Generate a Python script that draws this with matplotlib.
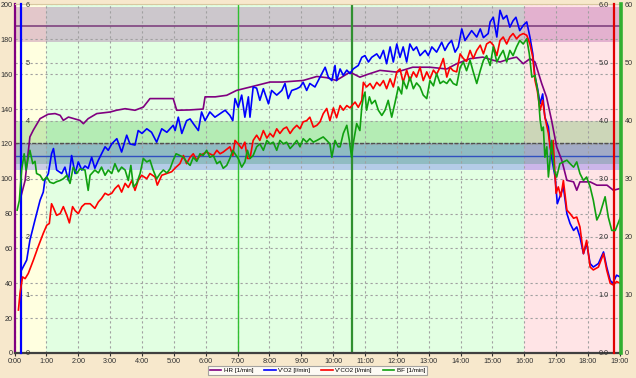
import matplotlib
matplotlib.use("Agg")
import matplotlib.pyplot as plt
import numpy as np

# HR [1/min], left scale 0-200
hr_t = [0.17, 0.33, 0.48, 0.59, 0.80, 1.05, 1.27, 1.43, 1.53, 1.69,
        2.05, 2.16, 2.31, 2.58, 3.00, 3.20, 3.47, 3.78, 4.04, 4.25,
        4.60, 4.98, 5.09, 5.50, 5.92, 5.98, 6.30, 6.66, 6.97, 7.39,
        8.02, 8.40, 9.06, 9.49, 9.80, 10.10, 10.53, 10.84, 11.10, 11.47,
        12.00, 12.50, 13.04, 13.57, 13.88, 14.30, 14.70, 15.03, 15.24, 15.55,
        15.76, 15.97, 16.18, 16.34, 16.55, 16.70, 16.86, 17.02, 17.18, 17.34,
        17.55, 17.65, 17.75, 18.07, 18.28, 18.60, 18.80, 19.01]
hr = [87.7, 99, 124, 128, 134.5, 137, 137.4, 136.4, 133.5, 135.4,
      133.5, 131.6, 134.5, 137.4, 138.3, 139.3, 140.2, 139.3, 141.1, 146,
      146, 146, 139.3, 139.5, 140, 147, 147, 147.9, 150.7, 152.6,
      155.5, 155.5, 156.4, 158.7, 158, 156.4, 161.2, 158.3, 160, 162.2,
      161.2, 164, 164, 163, 166, 168.9, 169.8, 168, 167, 168.9,
      169.8, 166, 168.9, 167, 154.6, 146.9, 133.5, 118.2, 110.6, 99.1,
      98.2, 93.4, 98.2, 98.2, 96.3, 96.3, 93.4, 94.4]

# V'O2 [l/min], scale 0-6
vo2_t = [0.22, 0.38, 0.48, 0.64, 0.80, 0.90, 0.95, 1.06, 1.16, 1.22,
         1.32, 1.48, 1.58, 1.69, 1.79, 1.90, 2.00, 2.11, 2.21, 2.31,
         2.42, 2.52, 2.63, 2.73, 2.84, 2.94, 3.05, 3.21, 3.36, 3.52,
         3.62, 3.78, 3.88, 4.00, 4.15, 4.30, 4.46, 4.62, 4.78, 4.88,
         4.98, 5.04, 5.14, 5.25, 5.40, 5.51, 5.61, 5.77, 5.87, 5.98,
         6.13, 6.29, 6.45, 6.61, 6.76, 6.85, 6.92, 7.02, 7.13, 7.23,
         7.34, 7.39, 7.49, 7.60, 7.70, 7.81, 7.97, 8.07, 8.23, 8.39,
         8.49, 8.59, 8.70, 8.86, 8.96, 9.06, 9.17, 9.27, 9.43, 9.59,
         9.75, 9.85, 9.96, 10.06, 10.11, 10.22, 10.32, 10.43, 10.53, 10.63,
         10.79, 10.90, 11.00, 11.11, 11.21, 11.37, 11.47, 11.58, 11.68, 11.79,
         11.89, 12.00, 12.10, 12.20, 12.31, 12.41, 12.52, 12.62, 12.73, 12.89,
         12.99, 13.10, 13.25, 13.41, 13.51, 13.62, 13.72, 13.83, 13.93, 14.04,
         14.14, 14.25, 14.35, 14.51, 14.62, 14.72, 14.87, 14.93, 15.03, 15.14,
         15.24, 15.34, 15.45, 15.55, 15.65, 15.74, 15.86, 15.97, 16.08, 16.18,
         16.27, 16.34, 16.41, 16.50, 16.58, 16.65, 16.76, 16.81, 16.86, 16.97,
         17.04, 17.12, 17.23, 17.34, 17.44, 17.55, 17.65, 17.75, 17.86, 17.96,
         18.07, 18.17, 18.33, 18.49, 18.59, 18.70, 18.78, 18.90, 19.01]
vo2 = [1.43, 1.60, 1.94, 2.29, 2.63, 2.77, 2.97, 3.09, 3.43, 3.52,
       3.15, 3.09, 3.20, 2.97, 3.40, 3.09, 3.29, 3.15, 3.22, 3.18,
       3.37, 3.18, 3.32, 3.43, 3.55, 3.49, 3.60, 3.69, 3.46, 3.75,
       3.60, 3.58, 3.83, 3.78, 3.86, 3.80, 3.63, 3.86, 3.80, 3.86,
       3.92, 3.83, 4.06, 3.78, 4.00, 4.03, 3.95, 3.83, 4.15, 4.00,
       4.15, 4.06, 4.12, 4.18, 4.09, 4.00, 4.38, 4.23, 4.44, 4.06,
       4.41, 4.06, 4.58, 4.56, 4.35, 4.55, 4.29, 4.52, 4.44, 4.52,
       4.64, 4.38, 4.52, 4.55, 4.58, 4.66, 4.52, 4.64, 4.58, 4.75,
       4.92, 4.75, 4.69, 4.95, 4.69, 4.89, 4.78, 4.87, 4.81, 4.89,
       4.95, 5.09, 5.12, 5.01, 5.09, 5.15, 5.07, 5.21, 4.98, 5.27,
       5.01, 5.32, 5.09, 5.27, 5.01, 5.32, 5.21, 5.27, 5.12, 5.21,
       5.12, 5.27, 5.18, 5.35, 5.21, 5.32, 5.38, 5.18, 5.27, 5.58,
       5.38, 5.47, 5.55, 5.44, 5.58, 5.43, 5.50, 5.70, 5.78, 5.44,
       5.90, 5.75, 5.81, 5.61, 5.72, 5.78, 5.55, 5.64, 5.70, 5.44,
       5.15, 4.75, 4.58, 4.29, 4.46, 4.06, 3.89, 3.60, 3.37, 3.03,
       2.57, 2.69, 2.86, 2.40, 2.23, 2.11, 2.17, 2.00, 1.71, 1.89,
       1.54, 1.48, 1.54, 1.74, 1.48, 1.25, 1.20, 1.34, 1.31]

# V'CO2 [l/min], scale 0-6
vco2_t = [0.12, 0.17, 0.25, 0.33, 0.43, 0.59, 0.74, 0.90, 1.01, 1.09,
          1.16, 1.22, 1.32, 1.43, 1.53, 1.64, 1.72, 1.82, 1.90, 2.00,
          2.11, 2.21, 2.37, 2.52, 2.63, 2.73, 2.84, 2.94, 3.05, 3.15,
          3.26, 3.36, 3.47, 3.57, 3.68, 3.78, 3.88, 3.99, 4.15, 4.25,
          4.41, 4.48, 4.62, 4.78, 4.93, 5.07, 5.19, 5.30, 5.40, 5.51,
          5.61, 5.72, 5.82, 6.03, 6.13, 6.24, 6.35, 6.45, 6.55, 6.76,
          6.85, 6.92, 7.02, 7.13, 7.23, 7.31, 7.39, 7.49, 7.60, 7.70,
          7.81, 7.92, 8.02, 8.12, 8.23, 8.33, 8.44, 8.54, 8.65, 8.75,
          8.86, 8.96, 9.06, 9.17, 9.27, 9.38, 9.49, 9.59, 9.69, 9.80,
          9.90, 10.01, 10.11, 10.22, 10.32, 10.43, 10.53, 10.69, 10.79, 10.90,
          10.95, 11.05, 11.16, 11.26, 11.37, 11.47, 11.58, 11.68, 11.79, 11.89,
          12.00, 12.10, 12.20, 12.31, 12.41, 12.52, 12.62, 12.73, 12.83, 12.94,
          13.04, 13.15, 13.25, 13.36, 13.46, 13.57, 13.67, 13.77, 13.88, 13.99,
          14.09, 14.19, 14.30, 14.40, 14.51, 14.62, 14.72, 14.82, 14.93, 15.03,
          15.14, 15.24, 15.34, 15.45, 15.55, 15.65, 15.76, 15.86, 15.97, 16.08,
          16.18, 16.27, 16.34, 16.41, 16.50, 16.58, 16.65, 16.76, 16.81, 16.86,
          16.91, 17.00, 17.07, 17.15, 17.23, 17.34, 17.44, 17.55, 17.65, 17.75,
          17.86, 17.96, 18.07, 18.17, 18.33, 18.49, 18.59, 18.70, 18.80, 18.90,
          19.01]
vco2 = [0.74, 1.03, 1.31, 1.28, 1.37, 1.60, 1.83, 2.06, 2.20, 2.23,
        2.57, 2.50, 2.37, 2.40, 2.52, 2.37, 2.24, 2.52, 2.45, 2.40,
        2.52, 2.57, 2.57, 2.49, 2.60, 2.66, 2.75, 2.72, 2.75, 2.83,
        2.89, 2.77, 2.92, 2.85, 2.97, 2.80, 2.97, 3.06, 3.00, 3.09,
        3.03, 2.89, 3.06, 3.09, 3.12, 3.20, 3.26, 3.40, 3.26, 3.37,
        3.43, 3.32, 3.40, 3.46, 3.43, 3.40, 3.49, 3.43, 3.46, 3.55,
        3.40, 3.66, 3.60, 3.52, 3.63, 3.35, 3.35, 3.66, 3.75, 3.66,
        3.83, 3.70, 3.78, 3.72, 3.86, 3.78, 3.86, 3.89, 3.78, 3.86,
        3.92, 3.86, 3.98, 4.00, 4.06, 3.89, 3.92, 3.98, 4.12, 4.21,
        4.00, 4.22, 4.05, 4.26, 4.18, 4.26, 4.22, 4.32, 4.23, 4.35,
        4.66, 4.58, 4.64, 4.55, 4.66, 4.60, 4.69, 4.55, 4.72, 4.58,
        4.84, 4.89, 4.66, 4.87, 4.69, 4.84, 4.75, 4.92, 4.69, 4.84,
        4.72, 4.87, 4.80, 4.92, 5.07, 4.75, 4.92, 4.86, 4.84, 5.15,
        5.07, 5.02, 5.21, 5.07, 5.21, 5.30, 5.15, 5.32, 5.36, 5.30,
        5.12, 5.38, 5.44, 5.32, 5.44, 5.50, 5.41, 5.47, 5.50, 5.47,
        5.32, 5.09, 4.69, 4.52, 4.18, 4.35, 4.06, 3.78, 3.55, 3.43,
        3.66, 2.75, 2.86, 2.69, 2.97, 2.46, 2.40, 2.32, 2.34, 2.17,
        1.71, 1.94, 1.48, 1.43, 1.48, 1.71, 1.43, 1.20, 1.17, 1.23,
        1.20]

# BF [1/min], scale 0-60
bf_t = [0.08, 0.15, 0.22, 0.30, 0.36, 0.43, 0.48, 0.57, 0.64, 0.69,
        0.80, 0.90, 1.01, 1.11, 1.22, 1.32, 1.43, 1.53, 1.64, 1.74,
        1.84, 1.95, 2.05, 2.21, 2.31, 2.37, 2.52, 2.63, 2.73, 2.84,
        2.94, 3.05, 3.15, 3.26, 3.36, 3.47, 3.57, 3.65, 3.73, 3.83,
        3.94, 4.04, 4.15, 4.25, 4.35, 4.46, 4.57, 4.67, 4.78, 4.88,
        4.98, 5.07, 5.19, 5.30, 5.40, 5.51, 5.61, 5.72, 5.82, 5.92,
        6.03, 6.13, 6.24, 6.35, 6.45, 6.55, 6.66, 6.76, 6.85, 6.92,
        7.02, 7.13, 7.23, 7.31, 7.39, 7.49, 7.60, 7.70, 7.81, 7.92,
        8.02, 8.12, 8.23, 8.33, 8.44, 8.54, 8.65, 8.75, 8.86, 8.96,
        9.06, 9.17, 9.27, 9.38, 9.49, 9.59, 9.69, 9.80, 9.90, 9.96,
        10.06, 10.16, 10.22, 10.32, 10.43, 10.51, 10.58, 10.63, 10.74, 10.84,
        10.90, 10.95, 11.00, 11.05, 11.14, 11.21, 11.32, 11.42, 11.53, 11.63,
        11.73, 11.84, 11.94, 12.05, 12.15, 12.20, 12.31, 12.41, 12.52, 12.62,
        12.73, 12.83, 12.94, 13.04, 13.15, 13.25, 13.36, 13.46, 13.57, 13.67,
        13.77, 13.88, 13.99, 14.09, 14.19, 14.30, 14.40, 14.51, 14.62, 14.72,
        14.82, 14.93, 15.03, 15.14, 15.24, 15.34, 15.45, 15.55, 15.65, 15.76,
        15.86, 15.97, 16.08, 16.16, 16.24, 16.34, 16.44, 16.50, 16.55, 16.60,
        16.65, 16.71, 16.76, 16.81, 16.86, 16.94, 17.02, 17.12, 17.23, 17.34,
        17.44, 17.55, 17.65, 17.75, 17.86, 17.96, 18.07, 18.17, 18.28, 18.38,
        18.54, 18.64, 18.75, 18.86, 19.01]
bf = [24.6, 26.3, 31.5, 34.3, 31.5, 33.7, 34.9, 32.6, 33.0, 30.9,
      30.6, 29.7, 30.3, 29.4, 29.2, 29.5, 29.7, 30.0, 30.6, 29.2,
      32.0, 30.9, 31.7, 31.5, 28.0, 30.6, 31.5, 31.0, 32.0, 30.6,
      31.5, 30.9, 32.6, 31.2, 32.0, 31.5, 29.7, 32.3, 28.6, 29.2,
      30.9, 33.5, 32.9, 33.2, 31.5, 30.0, 30.9, 31.5, 31.0, 31.7,
      33.2, 34.3, 34.0, 33.7, 32.9, 32.3, 33.7, 33.0, 34.3, 34.0,
      34.9, 33.7, 34.0, 32.6, 33.0, 31.8, 32.3, 33.5, 34.9, 34.3,
      33.5, 32.0, 32.9, 34.9, 33.5, 34.0, 35.5, 36.0, 34.9, 36.6,
      36.0, 36.3, 34.9, 36.6, 36.0, 36.3, 35.2, 35.8, 36.6, 35.5,
      36.9, 36.3, 36.9, 36.3, 36.6, 36.9, 37.2, 36.6, 36.0, 33.7,
      36.6, 35.5, 35.5, 37.8, 39.2, 36.6, 33.7, 36.0, 39.5, 38.3,
      42.3, 44.1, 44.9, 41.8, 44.1, 42.9, 43.5, 41.8, 40.9, 41.8,
      43.5, 40.6, 43.0, 45.8, 44.6, 46.9, 45.5, 47.5, 45.5, 46.5,
      45.8, 44.4, 43.8, 46.9, 46.0, 48.1, 46.4, 46.8, 46.4, 47.2,
      46.4, 46.1, 49.2, 50.1, 48.6, 50.4, 48.4, 46.4, 48.6, 50.4,
      51.2, 49.5, 52.7, 50.1, 51.2, 52.1, 50.1, 52.1, 51.2, 52.7,
      53.8, 53.2, 54.1, 51.5, 47.5, 47.8, 44.6, 40.1, 38.3, 38.9,
      33.7, 35.5, 30.3, 33.2, 36.6, 31.5, 30.3, 32.6, 32.9, 33.2,
      32.6, 32.0, 32.9, 30.9, 29.7, 30.3, 28.6, 26.3, 22.9, 24.0,
      26.9, 23.4, 21.1, 21.1, 23.2]

# phases and reference bands
phase_edges = [0, 1, 16, 19.05]
phase_colors = ["#FFFFE0", "#E2FFE2", "#FFE4E6"]
hr_band = (178.2, 198.3)
hr_line = 187.6
green_band = (108.7, 133.1)
blue_band = (105.3, 120.5)
vt_lines = [7.0, 10.6]
minutes = list(range(20))

TXT = "#303030"
FS = 5.2
plt.rcParams["font.family"] = ["Liberation Sans", "DejaVu Sans"]

fig = plt.figure(figsize=(6.36, 3.78), dpi=100, facecolor="#F7E8CC")
ax = fig.add_axes([0.02296, 0.06614, 0.954, 0.92196])
ax.set_xlim(0, 19.05)
ax.set_ylim(0, 200)

for (a, b), c in zip(zip(phase_edges[:-1], phase_edges[1:]), phase_colors):
    ax.axvspan(a, b, color=c, lw=0, zorder=0)
ax.axhspan(*hr_band, color="#800080", alpha=0.22, lw=0, zorder=0.5)
ax.axhline(hr_line, color="#7A3A7A", lw=1.4, alpha=0.8, zorder=0.6)
ax.axhspan(*green_band, color="#00A000", alpha=0.2, lw=0, zorder=0.5)
ax.axhspan(*blue_band, color="#0000FF", alpha=0.2, lw=0, zorder=0.5)
ax.axhline(blue_band[1], color="#505050", lw=1.0, ls=(0, (3, 1)), zorder=0.6)
ax.axhline(112.9, color="#3050C0", lw=1.0, zorder=0.6)

ax.set_yticks(np.arange(0, 201, 20))
ax.set_yticks(np.linspace(0, 200, 7), minor=True)
ax.set_xticks(minutes)
ax.set_xticklabels([f"{m}:00" for m in minutes])
ax.grid(True, which="both", color="#A0A0A0", ls=(0, (2, 2.5)), lw=0.8)
ax.set_axisbelow(True)
ax.tick_params(axis="x", labelsize=FS, colors=TXT, length=2, pad=1.5)
ax.tick_params(axis="y", labelsize=FS, colors=TXT, length=0, pad=1.2)
ax.tick_params(axis="y", which="minor", length=0)
ax.spines["left"].set_color("#800080")
ax.spines["left"].set_linewidth(1.6)
ax.spines["bottom"].set_color("#404040")
ax.spines["bottom"].set_linewidth(1.6)
ax.spines["top"].set_color("#D8C8A0")
ax.spines["right"].set_visible(False)

ax.axvline(vt_lines[0], color="#30C030", lw=1.0, zorder=1)
ax.axvline(vt_lines[1], color="#309030", lw=1.6, zorder=1)

l_hr, = ax.plot(hr_t, hr, color="#800080", lw=1.2, label="HR [1/min]", zorder=3)

# V'O2 axis, inside on the left
ax_vo2 = ax.twinx()
ax_vo2.set_ylim(0, 6)
ax_vo2.yaxis.set_ticks_position("left")
for s in ["right", "top", "bottom"]:
    ax_vo2.spines[s].set_visible(False)
ax_vo2.spines["left"].set_visible(True)
ax_vo2.spines["left"].set_position(("axes", 0.2 / 19.05))
ax_vo2.spines["left"].set_color("#0000FF")
ax_vo2.spines["left"].set_linewidth(1.6)
ax_vo2.set_yticks(range(7))
ax_vo2.tick_params(axis="y", labelsize=FS, colors=TXT, length=0, pad=-3.4)
plt.setp(ax_vo2.get_yticklabels(), ha="left")
l_vo2, = ax_vo2.plot(vo2_t, vo2, color="#0000FF", lw=1.2, label="V'O2 [l/min]")

# V'CO2 axis, inside on the right
ax_vco2 = ax.twinx()
ax_vco2.set_ylim(0, 6)
for s in ["left", "top", "bottom"]:
    ax_vco2.spines[s].set_visible(False)
ax_vco2.spines["right"].set_position(("axes", 18.81 / 19.05))
ax_vco2.spines["right"].set_color("#E00000")
ax_vco2.spines["right"].set_linewidth(1.6)
ax_vco2.set_yticks(range(7))
ax_vco2.set_yticklabels([f"{v:.1f}" for v in range(7)])
ax_vco2.tick_params(axis="y", labelsize=FS, colors=TXT, length=0, pad=-3.4)
plt.setp(ax_vco2.get_yticklabels(), ha="right")
l_vco2, = ax_vco2.plot(vco2_t, vco2, color="#FF0000", lw=1.2, label="V'CO2 [l/min]")

# BF axis, outside on the right
ax_bf = ax.twinx()
ax_bf.set_ylim(0, 60)
for s in ["left", "top", "bottom"]:
    ax_bf.spines[s].set_visible(False)
ax_bf.spines["right"].set_color("#30B030")
ax_bf.spines["right"].set_linewidth(2.6)
ax_bf.set_yticks(range(0, 61, 10))
ax_bf.tick_params(axis="y", labelsize=FS, colors=TXT, length=0, pad=2.5)
l_bf, = ax_bf.plot(bf_t, bf, color="#10A010", lw=1.2, label="BF [1/min]")

leg = fig.legend(handles=[l_hr, l_vo2, l_vco2, l_bf], loc="center",
                 bbox_to_anchor=(0.499, 0.0198), ncol=4, fontsize=4.5,
                 frameon=True, fancybox=False, edgecolor="#909090",
                 borderpad=0.3, handlelength=1.8, handletextpad=0.4,
                 columnspacing=1.8, borderaxespad=0)
leg.get_frame().set_facecolor("white")
leg.get_frame().set_linewidth(0.8)

fig.savefig("out.png", dpi=100, facecolor=fig.get_facecolor())
